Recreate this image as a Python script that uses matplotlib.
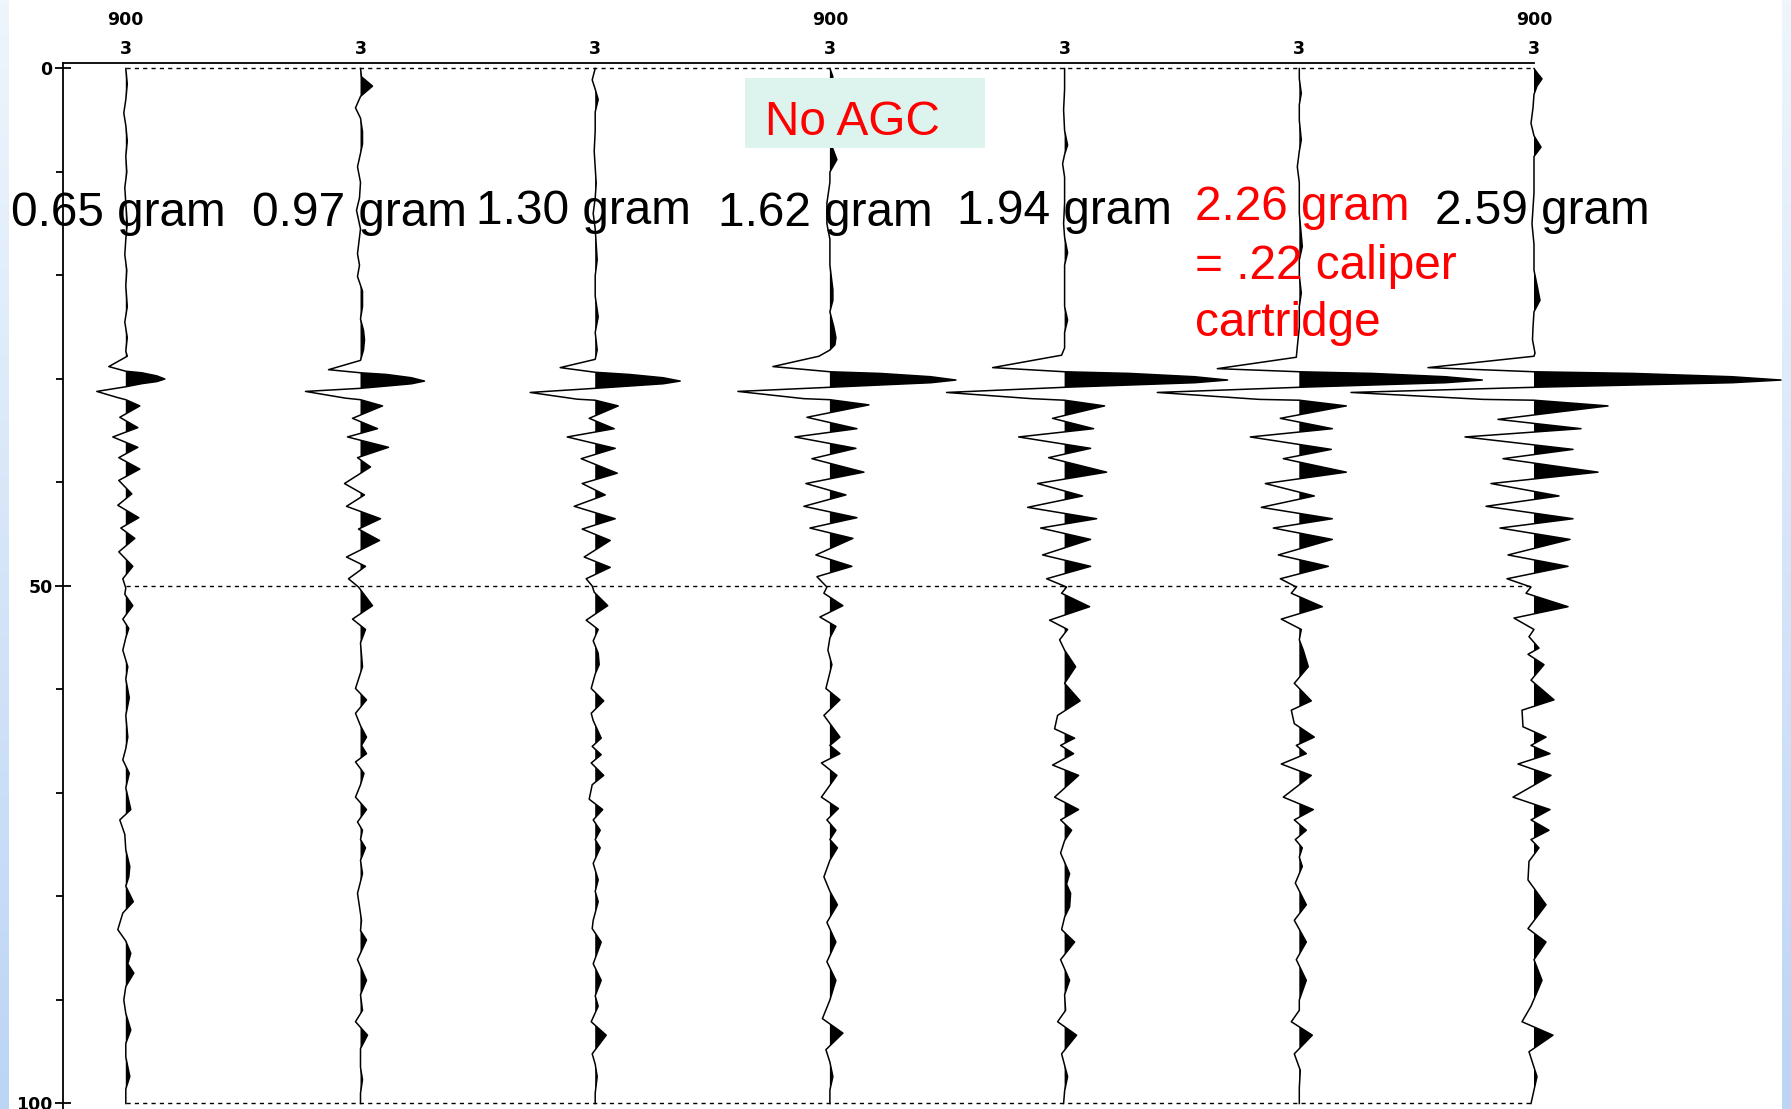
import numpy as np
import matplotlib
matplotlib.use("Agg")
import matplotlib.pyplot as plt
from matplotlib.patches import Rectangle
from matplotlib.colors import LinearSegmentedColormap

# ---------------- data ----------------
trace_labels = ["0.65 gram", "0.97 gram", "1.30 gram", "1.62 gram",
                "1.94 gram", "2.26 gram", "2.59 gram"]
extra_label_lines = ["= .22 caliper", "cartridge"]
top_tick_labels = ["3", "3", "3", "3", "3", "3", "3"]
header_traces = [1, 4, 7]
header_text = "900"
time_major = [0, 50, 100]
time_minor = [10, 20, 30, 40, 60, 70, 80, 90]
box_text = "No AGC"

# (time, amplitude) samples
trace_1 = [(0, 0), (1.5, 1.5), (3, 0), (4.3, -2), (5.5, 0), (7, 1.5), (8.5, 0), (10, 1),
           (11.5, -1), (13, 0), (15, 1.5), (16.5, 0), (18, -1), (19.5, 1), (21, 0), (23, 1.5),
           (24.5, -1), (26, 1.5), (27.3, 0), (27.8, 1.5), (28.8, -17), (29.25, 0), (29.4, 16),
           (29.7, 31), (30.0, 39), (30.25, 31), (30.45, 16), (30.75, 0), (31.2, -29), (31.8, -8),
           (32.0, 0),
           (32.6, 14), (33.7, -6), (34.7, 12), (35.6, -13), (36.6, 12), (37.6, -7), (38.7, 14),
           (39.8, -7), (41.1, 6), (42.2, -8), (43.4, 13), (44.4, -5), (45.4, 9), (46.7, -7),
           (48.1, 7), (49.3, -3), (50.2, 0), (50.8, -1), (51.9, 7), (53.2, -3), (54.1, 3),
           (55, 0), (56.2, -3), (57.8, 2), (59, 0), (60.8, 3.5), (62.5, 0), (64.6, 2), (65.7, 0),
           (66.8, -3), (68.1, 3.5), (69.5, 0), (71.6, 5), (72.6, -6), (74, -1), (75.5, 0),
           (77.1, 4), (78.1, 3), (79, 0), (80.5, 7.5), (81.6, -3), (83.2, -8), (84.3, 0),
           (85.5, 5), (86.5, 2), (87.4, 8), (88.7, 0), (90, -2), (91.3, 0), (92.9, 5), (94.2, 0),
           (95.5, 0), (97.4, 4), (98.6, 0), (100, 0)]

trace_2 = [(0, 0), (0.8, 1), (1.7, 12), (2.7, 0), (3.8, -5), (4.8, 0), (6.1, 2), (7.3, 2),
           (8.2, 0), (9.5, -3), (11, 0), (12.5, -1), (13.7, -4), (15.5, 0), (17.9, -3), (19, -1),
           (20.1, -3), (21.5, 2), (23, 2), (24.2, 0), (25.3, 3), (26.2, 4), (27.2, 3), (28.2, 0),
           (29.1, -32), (29.4, 0), (29.56, 26), (29.88, 51), (30.2, 64), (30.46, 51), (30.68, 26),
           (30.9, 0), (31.2, -55), (31.85, -15), (32.0, 0),
           (32.6, 22), (33.8, -8), (34.8, 17), (35.6, -13),
           (36.6, 28), (37.6, -3), (38.5, 10), (40.1, -16), (41.2, 4), (42.3, -14), (43.5, 20),
           (44.5, -2), (45.6, 19), (47.2, -14), (48.1, 5), (49.3, -12), (50.1, -2), (51.9, 12),
           (53.2, -8), (54.2, 5), (55.5, 0), (57.8, 2), (59.9, -5), (61.0, 6), (62.3, -5),
           (63.5, 0), (64.6, 6), (65.4, 1), (66.2, 6), (67.0, -5), (68.1, 3.5), (69.2, 0),
           (70.4, -5), (71.6, 6), (72.8, -3), (73.6, 2), (74.5, 0), (75.3, 5), (76.5, 0),
           (77.8, 2), (79.7, -3), (82.3, 1), (83.3, 0), (84.2, 6), (86.1, -3), (88.1, 6),
           (89.5, 0), (91.0, 2), (92.1, -5), (93.4, 7), (94.7, 0), (96.5, 0), (97.7, 2), (99, 0),
           (100, 0)]

trace_3 = [(0, 0), (1.1, -3), (2, 0), (3, 3), (4.2, 0), (6, 0), (8, -1), (11.1, 1), (12.5, 0),
           (14, -2), (15.5, 0), (18.5, 2), (20, 0), (22, 0), (24, 3), (25.5, 0), (27.2, 2),
           (28.1, 0), (28.9, -35), (29.35, 0), (29.56, 34), (29.88, 68), (30.2, 85), (30.46, 68),
           (30.68, 34), (30.9, 0), (31.3, -65), (31.95, -18), (32.05, 0),
           (32.6, 23), (33.8, -6), (34.8, 19),
           (35.6, -28), (36.7, 20), (37.7, -14), (39.1, 22), (40.1, -13), (41.2, 10), (42.3, -21),
           (43.5, 20), (44.5, -13), (45.6, 15), (47.2, -11), (48.2, 15), (49.3, -9), (50.0, -3),
           (50.6, -1), (51.9, 12.5), (53.3, -9), (54.2, 3), (55.3, -2), (56.5, 3), (57.6, 4),
           (58.5, 0), (59.9, -4), (61.1, 8.5), (62.3, -4), (63, -2), (64.7, 6), (65.5, -3),
           (66.3, 6), (67.1, -4), (68.3, 8.5), (69.2, -3), (70.6, -6), (71.6, 7.5), (72.6, -2),
           (73.6, 5), (74.5, 0), (75.3, 5), (76.8, -2), (78.4, 3), (79.5, 0), (80.5, 3),
           (82.3, -2), (83.1, -3), (84.4, 6), (86.5, -2), (88.1, 6), (89.6, 0), (90.6, 3),
           (92.1, -4), (93.4, 11), (95.2, -3), (96.2, 0), (97.4, 2), (99, 0), (100, 0)]

trace_4 = [(0, 0), (0.8, 3), (1.8, 0), (3, 0), (5, -1), (7, 0), (8.8, 7), (10, 0), (11, 0),
           (13, -3), (15, -3), (16.5, 0), (19, 0), (21.4, 3), (22.4, 3), (23.5, 0), (25, 4),
           (26, 6), (26.7, 5), (27.2, 0), (27.8, -11), (28.8, -57), (29.3, 0), (29.46, 50),
           (29.78, 101), (30.1, 126), (30.36, 101), (30.58, 50), (30.8, 0), (31.2, -92),
           (31.9, -26), (32.0, 0),
           (32.5, 39), (33.7, -23), (34.8, 27), (35.6, -35), (36.7, 26), (37.7, -18), (39.0, 34),
           (40.1, -24), (41.2, 16), (42.3, -26), (43.4, 27), (44.4, -20), (45.4, 23), (47.0, -14),
           (48.1, 22), (49.1, -13), (50.1, -3), (50.7, -6), (51.9, 13), (53.0, -10), (53.9, 6),
           (55, 0), (56.2, -2), (57.6, 2), (59.9, -4), (61.0, 10), (62.5, -6), (64.6, 10),
           (65.4, 0), (66.2, 10), (67.1, -8.5), (68.3, 7), (70.4, -8.5), (71.5, 8.5), (72.6, -3),
           (73.6, 6), (74.5, 0), (75.3, 7.5), (76.5, 0), (78.1, -6), (79.5, 0), (80.8, 7.5),
           (82.5, -3), (84.4, 6), (86.3, -3), (88.1, 6), (90, 0), (91.8, -7.5), (93.2, 13),
           (94.8, -4), (96, 0), (97.4, 3), (98.7, 0), (100, 0)]

trace_5 = [(0, 0), (2, 0), (4, -1), (6, 0), (7.4, 3), (8.3, 0), (9.2, -2), (10.5, 0), (13, 0),
           (15, -1), (16.3, 0), (17.8, 3), (19, 0), (21, 0), (23, 0), (24.3, 3), (25.5, 0),
           (27.0, 0), (27.7, -3), (28.9, -72), (29.3, 0), (29.46, 65), (29.78, 130), (30.1, 163),
           (30.36, 130), (30.58, 65), (30.8, 0), (31.3, -118), (31.9, -33), (32.05, 0),
           (32.6, 40), (33.8, -12),
           (34.8, 29), (35.6, -46), (36.7, 26), (37.6, -16), (39.0, 42), (40.1, -27), (41.3, 18),
           (42.4, -37), (43.5, 32), (44.4, -24), (45.5, 26), (47.0, -22), (48.1, 26), (49.3, -18),
           (50.1, 2), (50.7, -3), (52.0, 25), (53.3, -15), (54.2, 3), (55.2, -5), (56.2, 0),
           (57.8, 11), (59.4, 0), (61.1, 15.5), (62.5, -7), (63.8, -10), (64.7, 10), (65.4, -4),
           (66.2, 9), (67.3, -12), (68.3, 14), (70.4, -10), (71.6, 14), (72.6, -4), (73.6, 7),
           (74.6, 0), (75.8, -4), (77.8, 5), (78.8, 2), (79.7, 6), (81.0, 5), (82, 0), (83.2, -3),
           (84.4, 10), (86.1, -4), (88.1, 5), (89.5, 0), (91.0, 1), (92.1, -7), (93.4, 12),
           (95.2, -3), (96.3, 0), (97.4, 3), (98.8, 0), (100, -1)]

trace_6 = [(0, 0), (1, 0), (2.4, 2), (3.5, 0), (5, 0), (6.9, 2), (8, 0), (9.5, -2), (11, 0),
           (14, 0), (17.2, 3), (18.5, 0), (20, 0), (21.7, 2), (23, 0), (25, 0), (26.9, -2),
           (27.9, -3), (29.0, -82), (29.3, 0), (29.46, 73), (29.78, 146), (30.1, 183),
           (30.36, 146), (30.58, 73), (30.8, 0), (31.3, -142), (31.97, -40), (32.05, 0),
           (32.6, 47), (33.8, -19), (34.8, 33),
           (35.6, -49), (36.8, 32), (37.7, -16), (39.0, 47), (40.1, -34), (41.3, 15), (42.4, -38),
           (43.5, 33), (44.4, -26), (45.5, 33), (47.0, -21), (48.1, 29), (49.3, -19), (50.1, -3),
           (50.7, -8), (52.0, 23), (53.2, -18), (54.2, 2), (55.2, 0), (56.2, 4), (57.8, 9),
           (59.4, -5), (61.1, 12), (62.0, -8), (63.3, -5), (64.6, 15), (65.4, -3), (66.2, 7),
           (67.2, -18), (68.3, 12), (70.4, -16), (71.6, 14), (72.6, -5), (73.6, 7), (74.5, -4),
           (75.3, 3), (76.2, 0), (77.1, 3), (78.7, -4), (80.8, 7), (82.3, -5), (84.4, 7),
           (86.1, -3), (88.1, 7), (90, 0), (91.0, 0), (92.1, -8), (93.4, 13), (95.2, -5),
           (96.8, 1), (98.5, 0), (100, 0)]

trace_7 = [(0, 0), (0.4, 3), (1.0, 8), (1.7, 3), (2.5, 0), (3.8, -1), (5.3, -3), (6.5, 0),
           (7.6, 7), (8.5, 0), (10, 0), (12, 0), (15, -2), (17, 0), (19.5, 0), (21.4, 4),
           (22.4, 6), (23.5, 0), (25, -1), (26.2, -1.5), (27.5, 1), (27.8, 0), (28.9, -106),
           (29.3, 0), (29.46, 99), (29.78, 198), (30.1, 247), (30.36, 198), (30.58, 99),
           (30.8, 0), (31.3, -183), (31.97, -51), (32.05, 0),
           (32.6, 74), (33.9, -36), (34.8, 47), (35.6, -69), (36.8, 39),
           (37.7, -31), (39.0, 64), (40.1, -43), (41.3, 25), (42.3, -48), (43.5, 39), (44.4, -34),
           (45.5, 36), (47.0, -26), (48.1, 34), (49.3, -27), (50.1, -3), (50.7, -8), (52.0, 34),
           (53.1, -20), (54.2, 0), (54.9, -5), (56.0, 5), (56.6, -6), (57.6, 10), (59.1, -3),
           (61.0, 20), (62.0, -12), (63.6, -11), (64.6, 12), (65.4, -3), (66.2, 16), (67.2, -16),
           (68.3, 17), (70.4, -21), (71.6, 16), (72.6, -3), (73.6, 15), (74.5, -3), (75.3, 5),
           (76.6, -5), (78.4, -6), (80.8, 12), (83.1, -6), (84.4, 12), (86.1, 0), (88.1, 8),
           (90.6, -3), (92.1, -12), (93.4, 19), (95, -5), (97.4, 3), (100, -3)]

traces = [trace_1, trace_2, trace_3, trace_4, trace_5, trace_6, trace_7]

# ---------------- layout / style ----------------
W, H = 1791, 1109
fig = plt.figure(figsize=(W / 100, H / 100), dpi=100)
fig.patch.set_facecolor("white")

def fx(px):
    return px / W

def fy(py):
    return 1 - py / H

ax_left, ax_right, ax_top = 63, 1534, 63
ax = fig.add_axes([fx(ax_left), 0, fx(ax_right) - fx(ax_left), 1 - ax_top / H])
ax.set_facecolor("white")
spacing_px = 234.7
px_per_t = 10.35
xspan = (ax_right - ax_left) / spacing_px
ax.set_xlim(7 - xspan, 7)
t_top = -(68.5 - ax_top) / px_per_t
ax.set_ylim(t_top + H / px_per_t - ax_top / px_per_t, t_top)
gain = 1.0 / spacing_px

for i, tr in enumerate(traces):
    arr = np.array(tr, dtype=float)
    t, a = arr[:, 0], arr[:, 1]
    x0 = i + 1
    x = x0 + a * gain
    ax.fill_betweenx(t, x0, x, where=a > 0, interpolate=True, color="black",
                     lw=0, clip_on=False, zorder=3)
    ax.plot(x, t, color="black", lw=1.1, clip_on=False, zorder=4)

ax.hlines(time_major, 1, len(traces), colors="black", linestyles=(0, (3, 3)),
          lw=1.0, clip_on=False, zorder=2)

for s in ["right", "bottom"]:
    ax.spines[s].set_visible(False)
for s in ["left", "top"]:
    ax.spines[s].set_linewidth(1.3)

ax.set_yticks(time_major)
ax.set_yticks(time_minor, minor=True)
ax.set_yticklabels([str(v) for v in time_major])
ax.tick_params(axis="y", which="major", direction="inout", length=11, width=1.3,
               labelsize=12.5, pad=2)
ax.tick_params(axis="y", which="minor", direction="out", length=5, width=1.3)
for lbl in ax.get_yticklabels():
    lbl.set_fontweight("bold")

ax.xaxis.set_ticks_position("top")
ax.set_xticks(range(1, len(traces) + 1))
ax.set_xticklabels(top_tick_labels, fontsize=12.5, fontweight="bold")
ax.tick_params(axis="x", which="both", length=0, pad=3.5, bottom=False)

for tr in header_traces:
    ax.annotate(header_text, xy=(tr, 1), xycoords=("data", "axes fraction"),
                xytext=(0, 27.6), textcoords="offset points", ha="center",
                va="baseline", fontsize=12.5, fontweight="bold", annotation_clip=False)

# side gradient strips (slide background)
cmap = LinearSegmentedColormap.from_list("strip", ["#eef6fc", "#bcd5f5"])
grad = np.linspace(0, 1, 256)[:, None]
for left in (0, W - 9):
    sa = fig.add_axes([fx(left), 0, fx(9), 1])
    sa.imshow(grad, aspect="auto", cmap=cmap)
    sa.axis("off")

# labels
font = "Liberation Sans"
label_pos = [(11, 226), (252, 226), (476, 224), (718, 226), (957, 224), (1195, 220), (1435, 224)]
label_cols = ["black", "black", "black", "black", "black", "red", "black"]
for txt, (px, py), c in zip(trace_labels, label_pos, label_cols):
    fig.text(fx(px), fy(py), txt, ha="left", va="baseline", fontsize=34.4,
             family=font, color=c, zorder=5)
for txt, py in zip(extra_label_lines, [279, 336]):
    fig.text(fx(1195), fy(py), txt, ha="left", va="baseline", fontsize=34.4,
             family=font, color="red", zorder=5)

# "No AGC" box
fig.add_artist(Rectangle((fx(745), fy(148)), fx(240), 70 / H, transform=fig.transFigure,
                         facecolor="#dcf3ee", edgecolor="none", zorder=4))
fig.text(fx(765), fy(135), box_text, ha="left", va="baseline", fontsize=34.4,
         family=font, color="red", zorder=6)

fig.savefig("out.png", dpi=100, facecolor="white")
